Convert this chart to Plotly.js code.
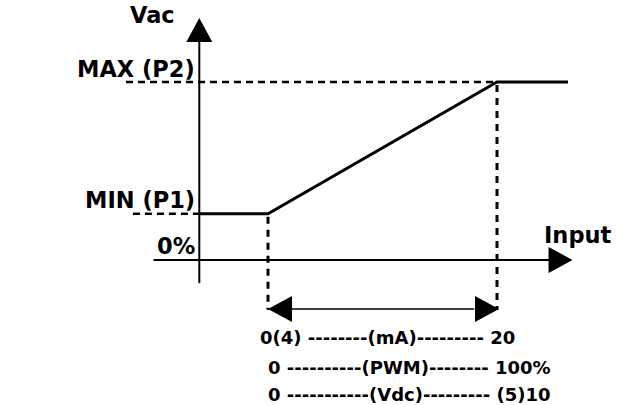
<!DOCTYPE html>
<html><head><meta charset="utf-8">
<script src="https://cdn.plot.ly/plotly-3.0.1.min.js"></script>
<style>html,body{margin:0;padding:0;background:#fff}</style>
</head><body><div id="chart" style="width:630px;height:405px"></div>
<script>
// ---- data (input in % of span, output in % of Vac) ----
const curveInput = [-30, 0, 100, 131];
const curveOutput = [26, 26, 100, 100];
const levelValues = [100, 26, 0];
const levelLabels = ['MAX (P2)', 'MIN (P1)', '0%'];
const spanInput = [0, 100];
const spanOutput = [26, 100];
const scaleLines = ['0(4) --------(mA)--------- 20', '0 ----------(PWM)-------- 100%', '0 -----------(Vdc)--------- (5)10'];
const axisTitles = ['Vac', 'Input'];

// ---- geometry (pixel scale of the drawing) ----
const PXX = 2.29, PXY = 1.78, X0 = 268, Y0 = 260, W = 630, H = 405;
const xRange = [(0 - X0) / PXX, (W - X0) / PXX];
const yRange = [(Y0 - H) / PXY, (Y0 - 0) / PXY];
const dx = p => p / PXX, dy = p => p / PXY;
const yAxisX = curveInput[0];
const yAxisBottom = -13, yAxisTip = 136;
const xAxisLeft = -50, xAxisTip = 133;
const spanArrowY = -27.5, dropBottom = -28;
const headLen = 24, headHalf = 13;

const black = '#000';
const shapes = [];
function tri(pts) {
  return 'M' + pts.map(p => p[0] + ',' + p[1]).join('L') + 'Z';
}
// y axis
shapes.push({type: 'line', x0: yAxisX, x1: yAxisX, y0: yAxisBottom, y1: yAxisTip - dy(headLen) + 0.5, line: {color: black, width: 2}});
shapes.push({type: 'path', path: tri([[yAxisX, yAxisTip], [yAxisX - dx(headHalf), yAxisTip - dy(headLen)], [yAxisX + dx(headHalf), yAxisTip - dy(headLen)]]), fillcolor: black, line: {width: 0}});
// x axis
shapes.push({type: 'line', x0: xAxisLeft, x1: xAxisTip - dx(headLen) + 0.5, y0: levelValues[2], y1: levelValues[2], line: {color: black, width: 2}});
shapes.push({type: 'path', path: tri([[xAxisTip, levelValues[2]], [xAxisTip - dx(headLen), levelValues[2] + dy(headHalf)], [xAxisTip - dx(headLen), levelValues[2] - dy(headHalf)]]), fillcolor: black, line: {width: 0}});
// level dashes
shapes.push({type: 'line', x0: -62, x1: spanInput[1], y0: levelValues[0], y1: levelValues[0], line: {color: black, width: 2.5, dash: '7px,5px'}, layer: 'below'});
shapes.push({type: 'line', x0: -59, x1: yAxisX, y0: levelValues[1], y1: levelValues[1], line: {color: black, width: 2.5, dash: '7px,5px'}, layer: 'below'});
// vertical drops
spanInput.forEach((u, i) => {
  shapes.push({type: 'line', x0: u, x1: u, y0: spanOutput[i] - dy(3), y1: dropBottom, line: {color: black, width: 3, dash: '7px,6px'}, layer: 'below'});
});
// span double arrow
shapes.push({type: 'line', x0: spanInput[0] + dx(headLen) - 0.5, x1: spanInput[1] - dx(headLen) + 0.5, y0: spanArrowY, y1: spanArrowY, line: {color: black, width: 1.5}});
shapes.push({type: 'path', path: tri([[spanInput[0], spanArrowY], [spanInput[0] + dx(headLen), spanArrowY + dy(headHalf)], [spanInput[0] + dx(headLen), spanArrowY - dy(headHalf)]]), fillcolor: black, line: {width: 0}});
shapes.push({type: 'path', path: tri([[spanInput[1] + dx(2), spanArrowY], [spanInput[1] + dx(2) - dx(headLen), spanArrowY + dy(headHalf)], [spanInput[1] + dx(2) - dx(headLen), spanArrowY - dy(headHalf)]]), fillcolor: black, line: {width: 0}});

const fam = '"DejaVu Sans", sans-serif';
const big = {family: fam, size: 22.5, color: black, weight: 'bold'};
const small = {family: fam, size: 18, color: black, weight: 'bold'};
const annotations = [];
annotations.push({x: dx(152 - X0), y: dy(Y0 - 15), text: axisTitles[0], showarrow: false, xanchor: 'center', yanchor: 'middle', font: big});
annotations.push({x: dx(542 - X0), y: dy(Y0 - 235), text: axisTitles[1], showarrow: false, xanchor: 'left', yanchor: 'middle', font: big});
const labelY = [69, 200, 246];
levelLabels.forEach((t, i) => {
  annotations.push({x: dx(197 - X0), y: dy(Y0 - labelY[i]), text: t, showarrow: false, xanchor: 'right', yanchor: 'middle', font: big});
});
const lineY = [337, 367, 394], lineX = [258, 266, 266];
scaleLines.forEach((t, i) => {
  annotations.push({x: dx(lineX[i] - X0), y: dy(Y0 - lineY[i]), text: t, showarrow: false, xanchor: 'left', yanchor: 'middle', font: small});
});

const trace = {x: curveInput, y: curveOutput, mode: 'lines', line: {color: black, width: 3}, hoverinfo: 'skip', showlegend: false};

Plotly.newPlot('chart', [trace], {
  width: W, height: H, margin: {l: 0, r: 0, t: 0, b: 0},
  paper_bgcolor: '#fff', plot_bgcolor: '#fff',
  xaxis: {range: xRange, visible: false, fixedrange: true},
  yaxis: {range: yRange, visible: false, fixedrange: true},
  shapes: shapes, annotations: annotations, showlegend: false
}, {displayModeBar: false, staticPlot: true});
</script></body></html>
